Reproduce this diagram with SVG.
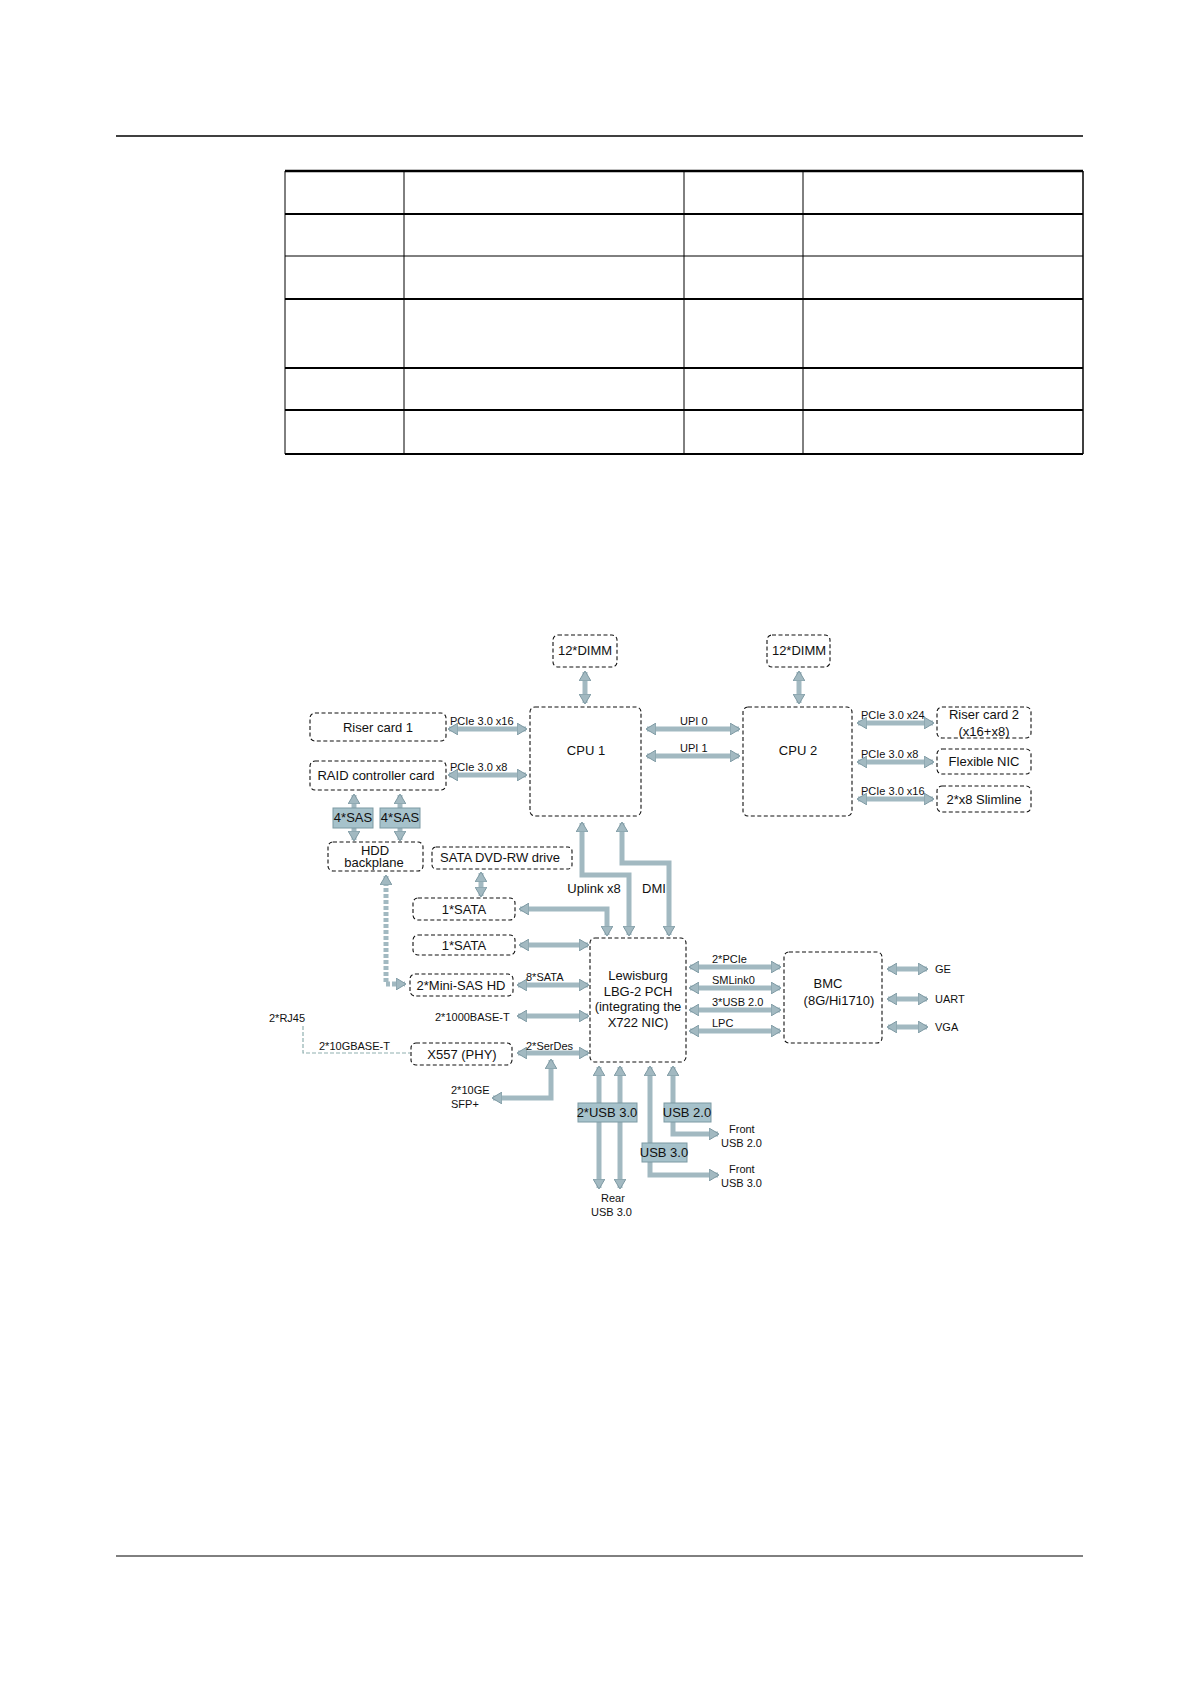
<svg xmlns="http://www.w3.org/2000/svg" width="1191" height="1684" viewBox="0 0 1191 1684">
<defs>
<style>
text{font-family:"Liberation Sans",Arial,sans-serif;fill:#111}
.b{fill:#fff;stroke:#111;stroke-width:1.1;stroke-dasharray:4 2.5}
.t{font-size:13px;text-anchor:middle}
.l{font-size:11px}
.a{stroke:#a2b9c1;stroke-width:5;fill:none}
.tag{fill:#a6c2cb;stroke:#7d9aa3;stroke-width:1}
.g{stroke:#000;fill:none}
</style>
<marker id="h" markerUnits="userSpaceOnUse" viewBox="0 0 10 12" refX="9" refY="6" markerWidth="10" markerHeight="12" orient="auto-start-reverse"><path d="M0,0 L10,6 L0,12 Z" fill="#a2b9c1" stroke="#7f9aa3" stroke-width="1"/></marker>
</defs>
<rect width="1191" height="1684" fill="#fff"/>
<g id="page">
<line class="g" x1="116" y1="136" x2="1083" y2="136" stroke-width="1.5"/>
<line class="g" x1="116" y1="1556" x2="1083" y2="1556" stroke-width="1"/>
<g stroke="#000">
<line x1="285" y1="171" x2="1083" y2="171" stroke-width="2.5"/>
<line x1="285" y1="214" x2="1083" y2="214" stroke-width="2"/>
<line x1="285" y1="256" x2="1083" y2="256" stroke-width="1"/>
<line x1="285" y1="299" x2="1083" y2="299" stroke-width="2"/>
<line x1="285" y1="368" x2="1083" y2="368" stroke-width="2"/>
<line x1="285" y1="410" x2="1083" y2="410" stroke-width="2"/>
<line x1="285" y1="454" x2="1083" y2="454" stroke-width="2"/>
<line x1="285" y1="171" x2="285" y2="454" stroke-width="1"/>
<line x1="404" y1="171" x2="404" y2="454" stroke-width="1"/>
<line x1="684" y1="171" x2="684" y2="454" stroke-width="1"/>
<line x1="803" y1="171" x2="803" y2="454" stroke-width="1"/>
<line x1="1083" y1="171" x2="1083" y2="454" stroke-width="1.5"/>
</g>
</g>
<g id="connectors">
<line class="a" x1="585" y1="672" x2="585" y2="703" marker-start="url(#h)" marker-end="url(#h)"/>
<line class="a" x1="799" y1="672" x2="799" y2="703" marker-start="url(#h)" marker-end="url(#h)"/>
<line class="a" x1="449" y1="729" x2="526" y2="729" marker-start="url(#h)" marker-end="url(#h)"/>
<line class="a" x1="449" y1="775" x2="526" y2="775" marker-start="url(#h)" marker-end="url(#h)"/>
<line class="a" x1="647" y1="729" x2="739" y2="729" marker-start="url(#h)" marker-end="url(#h)"/>
<line class="a" x1="647" y1="756" x2="739" y2="756" marker-start="url(#h)" marker-end="url(#h)"/>
<line class="a" x1="858" y1="723" x2="933" y2="723" marker-start="url(#h)" marker-end="url(#h)"/>
<line class="a" x1="858" y1="762" x2="933" y2="762" marker-start="url(#h)" marker-end="url(#h)"/>
<line class="a" x1="858" y1="799" x2="933" y2="799" marker-start="url(#h)" marker-end="url(#h)"/>
<line class="a" x1="354" y1="795" x2="354" y2="840" marker-start="url(#h)" marker-end="url(#h)"/>
<line class="a" x1="400" y1="795" x2="400" y2="840" marker-start="url(#h)" marker-end="url(#h)"/>
<path d="M386,876 V984 H405" fill="none" stroke="#a2b9c1" stroke-width="5" stroke-dasharray="4 2" marker-start="url(#h)" marker-end="url(#h)"/>
<line class="a" x1="481" y1="873" x2="481" y2="896" marker-start="url(#h)" marker-end="url(#h)"/>
<path class="a" d="M582,823 V875 H629 V935" marker-start="url(#h)" marker-end="url(#h)"/>
<path class="a" d="M622,823 V863 H669 V935" marker-start="url(#h)" marker-end="url(#h)"/>
<path class="a" d="M520,909 H607 V935" marker-start="url(#h)" marker-end="url(#h)"/>
<line class="a" x1="520" y1="945" x2="588" y2="945" marker-start="url(#h)" marker-end="url(#h)"/>
<line class="a" x1="518" y1="985" x2="588" y2="985" marker-start="url(#h)" marker-end="url(#h)"/>
<line class="a" x1="518" y1="1016" x2="588" y2="1016" marker-start="url(#h)" marker-end="url(#h)"/>
<line class="a" x1="518" y1="1053" x2="588" y2="1053" marker-start="url(#h)" marker-end="url(#h)"/>
<path class="a" d="M551,1060 V1098 H493" marker-start="url(#h)" marker-end="url(#h)"/>
<path d="M303,1026 V1053 H410" fill="none" stroke="#8fb0b0" stroke-width="1.2" stroke-dasharray="4 2"/>
<line class="a" x1="690" y1="967" x2="780" y2="967" marker-start="url(#h)" marker-end="url(#h)"/>
<line class="a" x1="690" y1="988" x2="780" y2="988" marker-start="url(#h)" marker-end="url(#h)"/>
<line class="a" x1="690" y1="1010" x2="780" y2="1010" marker-start="url(#h)" marker-end="url(#h)"/>
<line class="a" x1="690" y1="1031" x2="780" y2="1031" marker-start="url(#h)" marker-end="url(#h)"/>
<line class="a" x1="888" y1="969" x2="927" y2="969" marker-start="url(#h)" marker-end="url(#h)"/>
<line class="a" x1="888" y1="999" x2="927" y2="999" marker-start="url(#h)" marker-end="url(#h)"/>
<line class="a" x1="888" y1="1027" x2="927" y2="1027" marker-start="url(#h)" marker-end="url(#h)"/>
<line class="a" x1="599" y1="1067" x2="599" y2="1188" marker-start="url(#h)" marker-end="url(#h)"/>
<line class="a" x1="620" y1="1067" x2="620" y2="1188" marker-start="url(#h)" marker-end="url(#h)"/>
<path class="a" d="M650,1067 V1175 H718" marker-start="url(#h)" marker-end="url(#h)"/>
<path class="a" d="M673,1067 V1134 H718" marker-start="url(#h)" marker-end="url(#h)"/>
</g>
<g id="dimm1"><rect class="b" x="553" y="635" width="64" height="32" rx="5"/><text class="t" x="585" y="655" font-size="12">12*DIMM</text></g>
<g id="dimm2"><rect class="b" x="767" y="635" width="63" height="32" rx="5"/><text class="t" x="799" y="655" font-size="12">12*DIMM</text></g>
<g id="cpu1"><rect class="b" x="530" y="707" width="111" height="109" rx="5"/><text class="t" x="586" y="755">CPU 1</text></g>
<g id="cpu2"><rect class="b" x="743" y="707" width="109" height="109" rx="5"/><text class="t" x="798" y="755">CPU 2</text></g>
<g id="riser1"><rect class="b" x="310" y="713" width="136" height="28" rx="5"/><text class="t" x="378" y="732">Riser card 1</text></g>
<g id="raid"><rect class="b" x="310" y="761" width="136" height="29" rx="5"/><text class="t" x="376" y="780">RAID controller card</text></g>
<g id="sas1"><rect class="tag" x="333" y="808" width="40" height="20"/><text class="t" x="353" y="822" font-size="11.5">4*SAS</text></g>
<g id="sas2"><rect class="tag" x="380" y="808" width="40" height="20"/><text class="t" x="400" y="822" font-size="11.5">4*SAS</text></g>
<g id="hdd"><rect class="b" x="328" y="842" width="95" height="29" rx="5"/><text class="t" x="375" y="855">HDD</text><text class="t" x="374" y="867">backplane</text></g>
<g id="dvd"><rect class="b" x="432" y="847" width="140" height="22" rx="4"/><text class="t" x="500" y="862">SATA DVD-RW drive</text></g>
<g id="riser2"><rect class="b" x="937" y="707" width="94" height="31" rx="5"/><text class="t" x="984" y="719">Riser card 2</text><text class="t" x="984" y="736" font-size="12">(x16+x8)</text></g>
<g id="nic"><rect class="b" x="937" y="749" width="94" height="25" rx="5"/><text class="t" x="984" y="766">Flexible NIC</text></g>
<g id="slim"><rect class="b" x="937" y="786" width="94" height="26" rx="5"/><text class="t" x="984" y="804">2*x8 Slimline</text></g>
<g id="sata1"><rect class="b" x="413" y="898" width="102" height="22" rx="5"/><text class="t" x="464" y="914">1*SATA</text></g>
<g id="sata2"><rect class="b" x="413" y="935" width="102" height="20" rx="5"/><text class="t" x="464" y="950">1*SATA</text></g>
<g id="minisas"><rect class="b" x="410" y="974" width="103" height="22" rx="5"/><text class="t" x="461" y="990">2*Mini-SAS HD</text></g>
<g id="x557"><rect class="b" x="411" y="1043" width="101" height="22" rx="5"/><text class="t" x="462" y="1059">X557 (PHY)</text></g>
<g id="pch"><rect class="b" x="590" y="938" width="96" height="124" rx="5"/>
<text class="t" x="638" y="980">Lewisburg</text><text class="t" x="638" y="996">LBG-2 PCH</text><text class="t" x="638" y="1011">(integrating the</text><text class="t" x="638" y="1027">X722 NIC)</text></g>
<g id="bmc"><rect class="b" x="784" y="952" width="98" height="91" rx="5"/><text class="t" x="828" y="988">BMC</text><text class="t" x="839" y="1005">(8G/Hi1710)</text></g>
<g id="usbtags">
<rect class="tag" x="578" y="1103" width="59" height="19"/><text class="t" x="607" y="1117" font-size="11.5">2*USB 3.0</text>
<rect class="tag" x="664" y="1103" width="47" height="19"/><text class="t" x="687" y="1117" font-size="11.5">USB 2.0</text>
<rect class="tag" x="642" y="1143" width="45" height="19"/><text class="t" x="664" y="1157" font-size="11.5">USB 3.0</text>
</g>
<g id="labels">
<text class="l" x="450" y="725">PCIe 3.0 x16</text>
<text class="l" x="450" y="771">PCIe 3.0 x8</text>
<text class="l" x="680" y="725">UPI 0</text>
<text class="l" x="680" y="752">UPI 1</text>
<text class="l" x="861" y="719">PCIe 3.0 x24</text>
<text class="l" x="861" y="758">PCIe 3.0 x8</text>
<text class="l" x="861" y="795">PCIe 3.0 x16</text>
<text x="594" y="893" font-size="13" text-anchor="middle">Uplink x8</text>
<text x="654" y="893" font-size="13" text-anchor="middle">DMI</text>
<text class="l" x="526" y="981">8*SATA</text>
<text class="l" x="435" y="1021">2*1000BASE-T</text>
<text class="l" x="269" y="1022">2*RJ45</text>
<text class="l" x="319" y="1050">2*10GBASE-T</text>
<text class="l" x="526" y="1050">2*SerDes</text>
<text class="l" x="451" y="1094">2*10GE</text>
<text class="l" x="451" y="1108">SFP+</text>
<text class="l" x="712" y="963">2*PCIe</text>
<text class="l" x="712" y="984">SMLink0</text>
<text class="l" x="712" y="1006">3*USB 2.0</text>
<text class="l" x="712" y="1027">LPC</text>
<text class="l" x="935" y="973">GE</text>
<text class="l" x="935" y="1003">UART</text>
<text class="l" x="935" y="1031">VGA</text>
<text class="l" x="729" y="1133">Front</text>
<text class="l" x="721" y="1147">USB 2.0</text>
<text class="l" x="729" y="1173">Front</text>
<text class="l" x="721" y="1187">USB 3.0</text>
<text class="l" x="601" y="1202">Rear</text>
<text class="l" x="591" y="1216">USB 3.0</text>
</g>
</svg>
